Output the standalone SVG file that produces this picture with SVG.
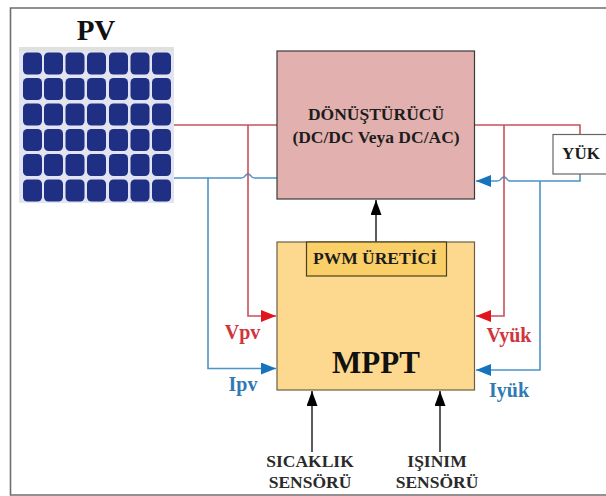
<svg xmlns="http://www.w3.org/2000/svg" width="606" height="496" viewBox="0 0 606 496">
<style>
text{font-family:"Liberation Serif","Times New Roman",serif;font-weight:bold;text-anchor:middle;fill:#1c1c1c}
.box{stroke:#3a3a3a;stroke-width:1.2}
.r{fill:none;stroke:#c9505a;stroke-width:1.6}
.b{fill:none;stroke:#4c93c8;stroke-width:1.6}
.k{fill:none;stroke:#333;stroke-width:1.6}
.m{font-size:17.500px}
.s{font-size:17.500px;fill:#2a2a2a}
.vr{font-size:20px;fill:#d0343c}
.vb{font-size:20px;fill:#2f7ab5}
</style>
<defs>
<marker id="ar" markerUnits="userSpaceOnUse" markerWidth="16" markerHeight="12" refX="15" refY="6" orient="auto"><path d="M0 0L15 6L0 12Z" fill="#e0141c"/></marker>
<marker id="ab" markerUnits="userSpaceOnUse" markerWidth="16" markerHeight="12" refX="15" refY="6" orient="auto"><path d="M0 0L15 6L0 12Z" fill="#1673bd"/></marker>
<marker id="ak" markerUnits="userSpaceOnUse" markerWidth="16" markerHeight="12" refX="15" refY="5.500" orient="auto"><path d="M0 0L15 5.500L0 11Z" fill="#000"/></marker>
<g id="c"><rect width="19" height="22" rx="4.500" fill="#1f2f84"/></g>
<g id="row"><use href="#c" x="23"/><use href="#c" x="44"/><use href="#c" x="65.500"/><use href="#c" x="87"/><use href="#c" x="109"/><use href="#c" x="130.500"/><use href="#c" x="152"/></g>
</defs>
<rect width="606" height="496" fill="#fff"/>
<path d="M606 8H10.500V495H606" fill="none" stroke="#6e6e6e" stroke-width="1.600"/>
<g id="pv">
<rect x="19" y="47" width="155" height="156" fill="#e2e5f1"/>
<rect x="19" y="47" width="155" height="4" fill="#e0e0e0"/>
<use href="#row" y="52.500"/><use href="#row" y="78"/><use href="#row" y="103.500"/><use href="#row" y="129"/><use href="#row" y="154"/><use href="#row" y="179.500"/>
<text x="96" y="40" font-size="29" style="fill:#111">PV</text>
</g>
<g id="connectors">
<path class="r" d="M174 125H277"/>
<path class="r" d="M474 125H580V134"/>
<path class="b" d="M174 178H241Q244 178 245 176Q248 172 251 176Q252 178 255 178H277"/>
<path class="b" d="M580 174V181H510Q508 181 507 179Q504 175 501 179Q500 181 497 181H476" marker-end="url(#ab)"/>
<path class="r" d="M248 125V316H276" marker-end="url(#ar)"/>
<path class="b" d="M208 178V368.500H276" marker-end="url(#ab)"/>
<path class="r" d="M504 125V316H476" marker-end="url(#ar)"/>
<path class="b" d="M540 181V370H476" marker-end="url(#ab)"/>
<path class="k" d="M376 242V200" marker-end="url(#ak)"/>
<path class="k" d="M312 452V391" marker-end="url(#ak)"/>
<path class="k" d="M440 452V391" marker-end="url(#ak)"/>
</g>
<g id="converter">
<rect class="box" x="277" y="51" width="197.500" height="148" fill="#e2b1af"/>
<text class="m" x="376" y="120">DÖNÜŞTÜRÜCÜ</text>
<text class="m" x="376" y="143">(DC/DC Veya DC/AC)</text>
</g>
<g id="load">
<rect x="553" y="134.500" width="60" height="39.500" fill="#fff" stroke="#666" stroke-width="1.200"/>
<text x="581" y="159" font-size="17">YÜK</text>
</g>
<g id="mppt">
<rect x="277" y="242" width="197.500" height="148" fill="#fcd98e" stroke="#6b5f45" stroke-width="1.200"/>
<text x="376" y="373" font-size="31" style="fill:#111">MPPT</text>
</g>
<g id="pwm">
<rect x="306.500" y="242" width="140" height="34" fill="#fbcf68" stroke="#4a3f20" stroke-width="1.200"/>
<text class="m" x="375" y="264">PWM ÜRETİCİ</text>
</g>
<g id="labels">
<text class="vr" x="242.500" y="339">Vpv</text>
<text class="vb" x="243" y="391">Ipv</text>
<text class="vr" x="509" y="342">Vyük</text>
<text class="vb" x="509" y="397">Iyük</text>
<text class="s" x="310" y="467">SICAKLIK</text>
<text class="s" x="310" y="488">SENSÖRÜ</text>
<text class="s" x="437" y="467">IŞINIM</text>
<text class="s" x="437" y="488">SENSÖRÜ</text>
</g>
</svg>
